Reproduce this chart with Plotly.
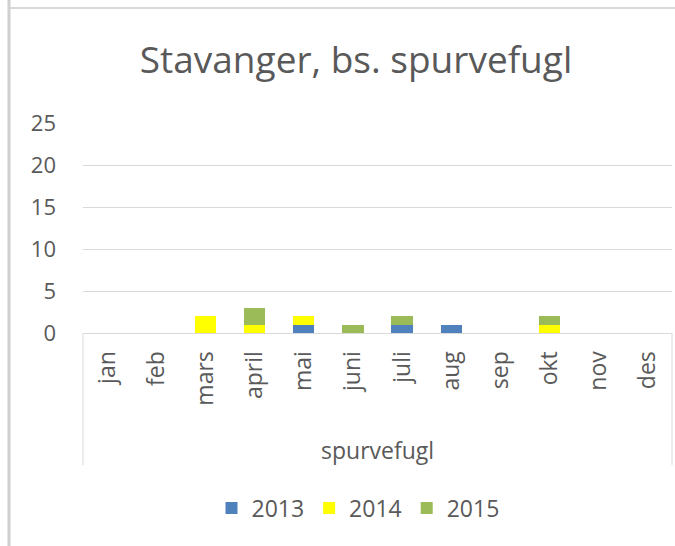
import plotly.graph_objects as go

months = ["jan", "feb", "mars", "april", "mai", "juni", "juli", "aug", "sep", "okt", "nov", "des"]
series_names = ["2013", "2014", "2015"]
v2013 = [0, 0, 0, 0, 1, 0, 1, 1, 0, 0, 0, 0]
v2014 = [0, 0, 2, 1, 1, 0, 0, 0, 0, 1, 0, 0]
v2015 = [0, 0, 0, 2, 0, 1, 1, 0, 0, 1, 0, 0]
colors = ["#4F81BD", "#FFFF00", "#9BBB59"]
title_text = "Stavanger, bs. spurvefugl"
group_label = "spurvefugl"
y_ticks = [0, 5, 10, 15, 20, 25]

FONT = "Open Sans"
TXT = "#595959"

W, H = 675, 546
L, R, T, B = 83, 672, 123, 333
pw, ph = R - L, B - T

def px(x):
    return (x - L) / pw

def py(y):
    return (B - y) / ph

fig = go.Figure()
for name, vals, c in zip(series_names, [v2013, v2014, v2015], colors):
    fig.add_trace(go.Bar(x=months, y=vals, name=name, marker=dict(color=c, line=dict(width=0))))

fig.update_layout(
    width=W, height=H, barmode="stack", bargap=0.57,
    margin=dict(l=L, r=W - R, t=T, b=H - B, pad=0, autoexpand=False),
    paper_bgcolor="white", plot_bgcolor="white",
    font=dict(family=FONT, color=TXT, size=15),
    title=dict(text=title_text, x=356 / W, xanchor="center", y=1 - 60 / H, yanchor="middle",
               font=dict(family=FONT, size=37, color=TXT)),
    showlegend=True,
    legend=dict(orientation="h", x=px(358), xanchor="center", y=py(508), yanchor="middle",
                font=dict(size=23, color=TXT), itemwidth=30, traceorder="normal",
                tracegroupgap=0, bgcolor="rgba(0,0,0,0)"),
    xaxis=dict(type="category", tickangle=-90, showline=True, linecolor="#D9D9D9", linewidth=1,
               ticks="", showgrid=False, tickfont=dict(size=23, color=TXT), ticklabelstandoff=8,
               automargin=False),
    yaxis=dict(range=[0, 25], tickvals=y_ticks, showgrid=True, gridcolor="#D9D9D9", gridwidth=1,
               zeroline=False, showline=False, ticks="", tickfont=dict(size=22, color=TXT),
               ticklabelstandoff=26, automargin=False),
)

shapes = []
# category group box
shapes.append(dict(type="line", xref="paper", yref="paper", x0=0, x1=0, y0=0, y1=py(465),
                   line=dict(color="#D9D9D9", width=1)))
shapes.append(dict(type="line", xref="paper", yref="paper", x0=1, x1=1, y0=0, y1=py(465),
                   line=dict(color="#D9D9D9", width=1)))
# sheet borders
shapes.append(dict(type="line", xref="paper", yref="paper", x0=px(9), x1=px(9), y0=py(0), y1=py(546),
                   line=dict(color="#D0D0D0", width=3)))
shapes.append(dict(type="line", xref="paper", yref="paper", x0=px(9), x1=px(675), y0=py(8), y1=py(8),
                   line=dict(color="#D9D9D9", width=2)))
fig.update_layout(shapes=shapes)

fig.add_annotation(text=group_label, xref="paper", yref="paper", x=0.5, y=py(450),
                   showarrow=False, font=dict(size=23, color=TXT), xanchor="center", yanchor="middle")

fig.write_html("out.html", config={"displayModeBar": False},
               post_script="document.body.style.margin='0';")
